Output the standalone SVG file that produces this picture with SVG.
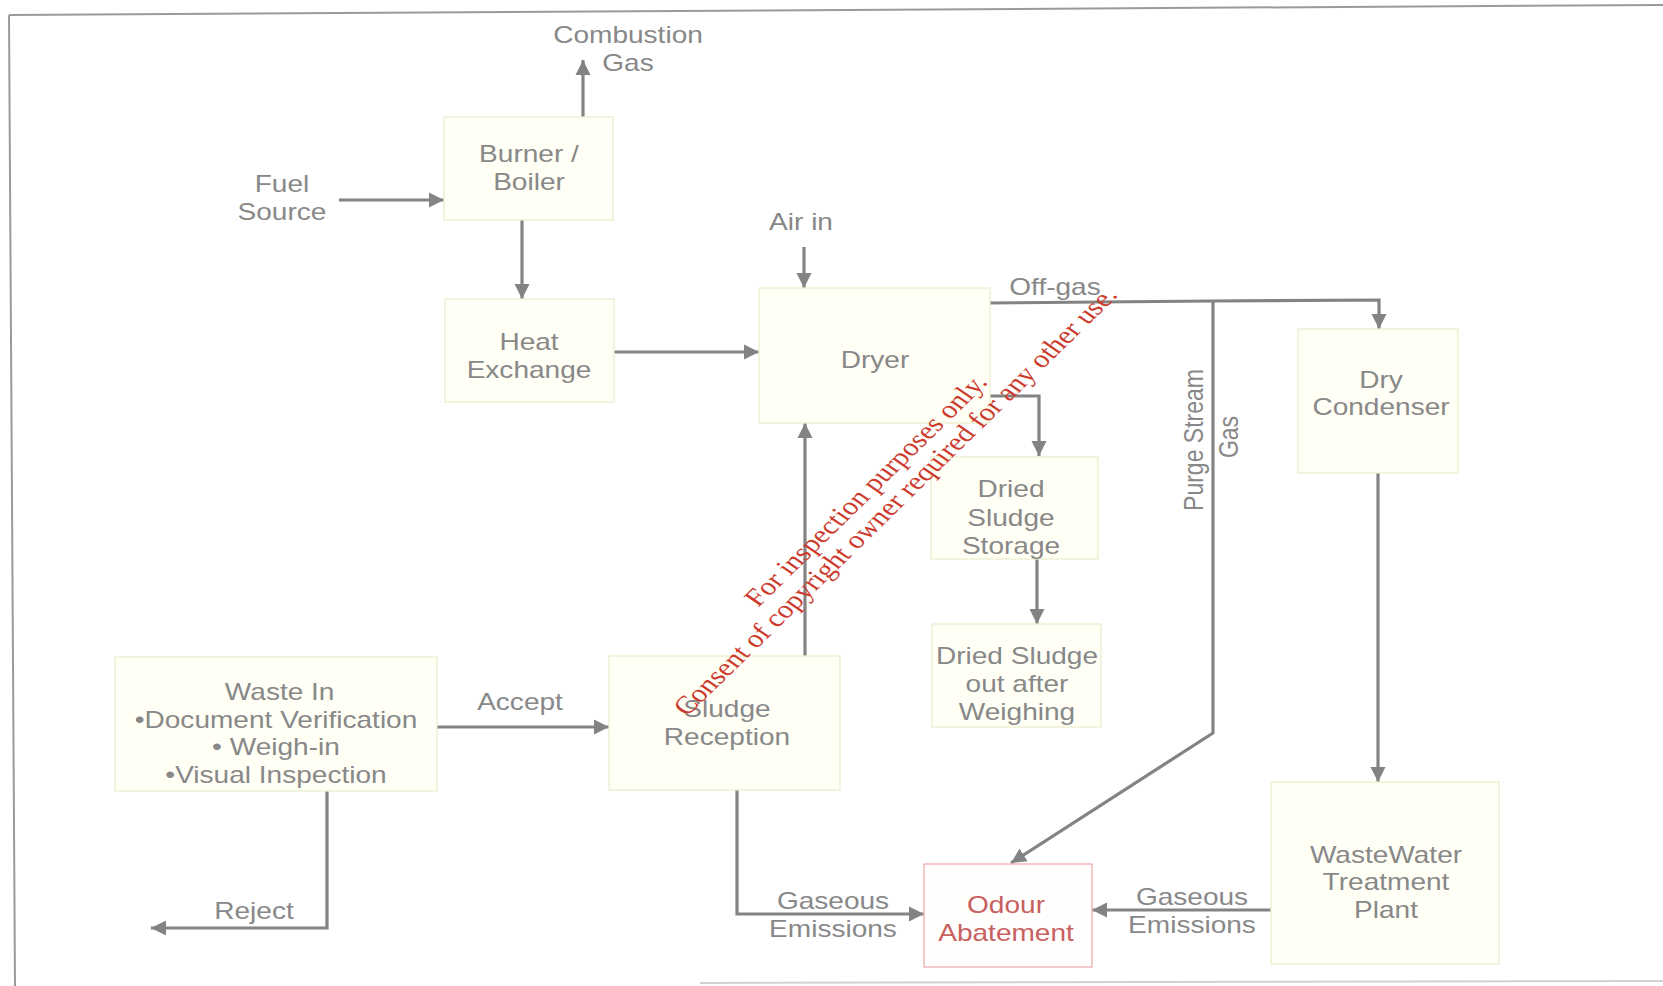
<svg xmlns="http://www.w3.org/2000/svg" width="1663" height="986" viewBox="0 0 1663 986">
<style>
.bg{fill:#ffffff}
.frame{fill:none;stroke:#9a9a9a;stroke-width:2}
.frame2{fill:none;stroke:#d0d0d0;stroke-width:2}
.box{fill:#fffff6;stroke:#ebeecf;stroke-width:1.3}
.odour{fill:#fffefc;stroke:#eeb0b0;stroke-width:1.3}
.t{font-family:"Liberation Sans",Arial,sans-serif;font-size:23px;fill:#888888;text-anchor:middle}
.red{fill:#c86060}
.c{fill:none;stroke:#838383;stroke-width:3.2}
.wm{font-family:"Liberation Serif","Times New Roman",serif;font-size:25px;fill:#cc3a2c}
</style>
<defs>
<marker id="ah" markerUnits="userSpaceOnUse" markerWidth="17" markerHeight="17" refX="15" refY="8" orient="auto">
<path d="M0,0.5 L15,8 L0,15.5 z" fill="#838383"/>
</marker>
</defs>
<rect class="bg" x="0" y="0" width="1663" height="986"/>
<g id="frame">
<path class="frame" d="M9,15 L1663,5"/>
<path class="frame" d="M9,15 L15,986"/>
<path class="frame2" d="M700,983 L1663,981"/>
</g>
<g id="connectors">
<path class="c" marker-end="url(#ah)" d="M339,200 H444"/>
<path class="c" marker-end="url(#ah)" d="M583,117 V60"/>
<path class="c" marker-end="url(#ah)" d="M522,220 V299"/>
<path class="c" marker-end="url(#ah)" d="M614,352 H759"/>
<path class="c" marker-end="url(#ah)" d="M804,247 V288"/>
<path class="c" marker-end="url(#ah)" d="M990,303 L1213,301 L1379,300 V329"/>
<path class="c" marker-end="url(#ah)" d="M1213,301 V733 L1011,863"/>
<path class="c" marker-end="url(#ah)" d="M990,396 H1039 V456"/>
<path class="c" marker-end="url(#ah)" d="M1037,559 V624"/>
<path class="c" marker-end="url(#ah)" d="M805,656 V423"/>
<path class="c" marker-end="url(#ah)" d="M437,727 H609"/>
<path class="c" marker-end="url(#ah)" d="M327,790 V928 H151"/>
<path class="c" marker-end="url(#ah)" d="M737,789 V914 H924"/>
<path class="c" marker-end="url(#ah)" d="M1271,910 H1092"/>
<path class="c" marker-end="url(#ah)" d="M1378,473 V782"/>
</g>
<g id="connector-labels">
<text class="t" transform="translate(628,0) scale(1.22,1)"><tspan x="0" y="43">Combustion</tspan><tspan x="0" y="71">Gas</tspan></text>
<text class="t" transform="translate(282,0) scale(1.22,1)"><tspan x="0" y="192">Fuel</tspan><tspan x="0" y="220">Source</tspan></text>
<text class="t" transform="translate(801,230) scale(1.22,1)">Air in</text>
<text class="t" transform="translate(1055,295) scale(1.22,1)">Off-gas</text>
<text class="t" transform="translate(1193,440) scale(1.22,1) rotate(-90)" y="8">Purge Stream</text>
<text class="t" transform="translate(1228,437) scale(1.22,1) rotate(-90)" y="8">Gas</text>
<text class="t" transform="translate(520,710) scale(1.22,1)">Accept</text>
<text class="t" transform="translate(254,919) scale(1.22,1)">Reject</text>
<text class="t" transform="translate(833,0) scale(1.22,1)"><tspan x="0" y="909">Gaseous</tspan><tspan x="0" y="937">Emissions</tspan></text>
<text class="t" transform="translate(1192,0) scale(1.22,1)"><tspan x="0" y="905">Gaseous</tspan><tspan x="0" y="933">Emissions</tspan></text>
</g>
<g id="burner">
<rect class="box" x="444" y="117" width="169" height="103"/>
<text class="t" transform="translate(529,0) scale(1.22,1)"><tspan x="0" y="162">Burner /</tspan><tspan x="0" y="190">Boiler</tspan></text>
</g>
<g id="heat-exchange">
<rect class="box" x="445" y="299" width="169" height="103"/>
<text class="t" transform="translate(529,0) scale(1.22,1)"><tspan x="0" y="350">Heat</tspan><tspan x="0" y="378">Exchange</tspan></text>
</g>
<g id="dryer">
<rect class="box" x="759" y="288" width="231" height="135"/>
<text class="t" transform="translate(875,368) scale(1.22,1)">Dryer</text>
</g>
<g id="dried-sludge-storage">
<rect class="box" x="931" y="457" width="167" height="102"/>
<text class="t" transform="translate(1011,0) scale(1.22,1)"><tspan x="0" y="497">Dried</tspan><tspan x="0" y="526">Sludge</tspan><tspan x="0" y="554">Storage</tspan></text>
</g>
<g id="dried-sludge-out">
<rect class="box" x="932" y="624" width="169" height="103"/>
<text class="t" transform="translate(1017,0) scale(1.22,1)"><tspan x="0" y="664">Dried Sludge</tspan><tspan x="0" y="692">out after</tspan><tspan x="0" y="720">Weighing</tspan></text>
</g>
<g id="dry-condenser">
<rect class="box" x="1298" y="329" width="160" height="144"/>
<text class="t" transform="translate(1381,0) scale(1.22,1)"><tspan x="0" y="388">Dry</tspan><tspan x="0" y="415">Condenser</tspan></text>
</g>
<g id="wastewater-plant">
<rect class="box" x="1271" y="782" width="228" height="182"/>
<text class="t" transform="translate(1386,0) scale(1.22,1)"><tspan x="0" y="863">WasteWater</tspan><tspan x="0" y="890">Treatment</tspan><tspan x="0" y="918">Plant</tspan></text>
</g>
<g id="odour-abatement">
<rect class="odour" x="924" y="864" width="168" height="103"/>
<text class="t red" transform="translate(1006,0) scale(1.22,1)"><tspan x="0" y="913">Odour</tspan><tspan x="0" y="941">Abatement</tspan></text>
</g>
<g id="sludge-reception">
<rect class="box" x="609" y="656" width="231" height="134"/>
<text class="t" transform="translate(727,0) scale(1.22,1)"><tspan x="0" y="717">Sludge</tspan><tspan x="0" y="745">Reception</tspan></text>
</g>
<g id="waste-in">
<rect class="box" x="115" y="657" width="322" height="134"/>
<text class="t" transform="translate(276,0) scale(1.22,1)"><tspan x="3" y="700">Waste In</tspan><tspan x="0" y="728">•Document Verification</tspan><tspan x="0" y="755">• Weigh-in</tspan><tspan x="0" y="783">•Visual Inspection</tspan></text>
</g>
<g id="watermark">
<text class="wm" transform="translate(758,608) scale(1.22,1) rotate(-50)">For inspection purposes only.</text>
<text class="wm" transform="translate(687,717) scale(1.22,1) rotate(-50)">Consent of copyright owner required for any other use.</text>
</g>
</svg>
